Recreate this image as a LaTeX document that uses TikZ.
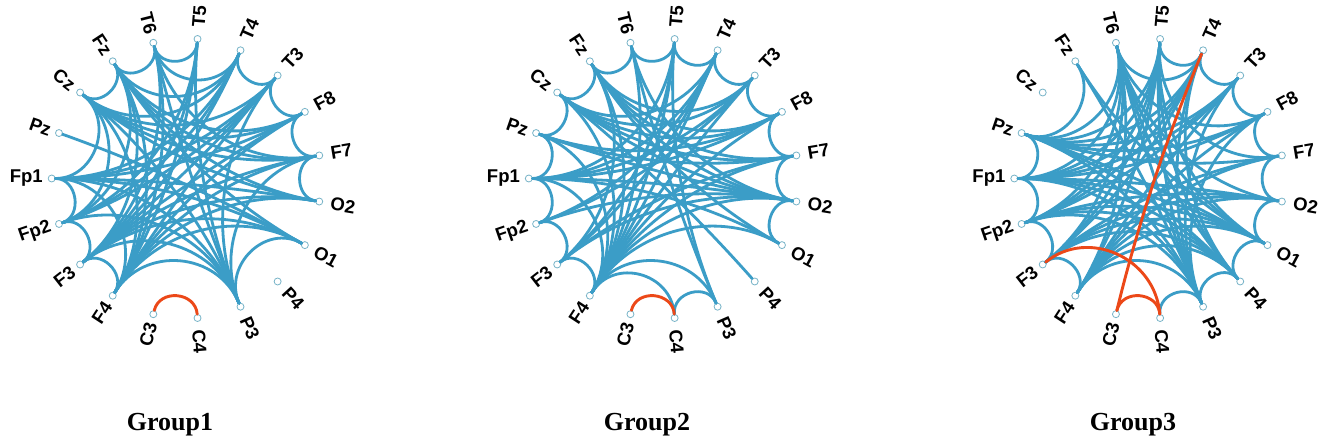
\documentclass[tikz,border=0pt]{standalone}
\usepackage{fontspec}
\newfontfamily\labfont{Liberation Sans}
\newfontfamily\titfont{Liberation Serif}
\definecolor{eblue}{RGB}{59,157,199}
\definecolor{ered}{RGB}{236,72,24}
\definecolor{nodec}{RGB}{120,180,200}
\tikzset{
  elec/.style={circle, draw=nodec, line width=0.8pt, fill=white, inner sep=0pt, minimum size=7pt},
  lab/.style={font=\labfont\bfseries\fontsize{18.5}{18.5}\selectfont, inner sep=0pt},
  conn/.style={draw=eblue, line width=2.8pt, line cap=round},
  redconn/.style={draw=ered, line width=2.9pt, line cap=round},
  grouptitle/.style={font=\titfont\bfseries\fontsize{26}{26}\selectfont, inner sep=0pt}
}
\def\elecnames{Fp1,Pz,Cz,Fz,T6,T5,T4,T3,F8,F7,O2,O1,P4,P3,C4,C3,F4,F3,Fp2}
\newcommand\drawgroup[5]{%
  \begin{scope}[shift={(#2pt,#3pt)}, x=134.7pt, y=140pt]
    \foreach \n [count=\i from 0] in \elecnames {
      \pgfmathsetmacro\ang{180-\i*360/19}
      \node[elec] (#1\i) at (\ang:1) {};
      \pgfmathtruncatemacro\side{cos(\ang)>0 ? 1 : 0}
      \ifnum\side=1
        \node[lab, rotate=\ang, anchor=west] (#1L\i) at (\ang:1.085) {\n};
      \else
        \pgfmathsetmacro\rot{\ang+180}
        \node[lab, rotate=\rot, anchor=east] (#1L\i) at (\ang:1.065) {\n};
      \fi
    }
    \foreach \a/\b in {#4} {
      \pgfmathtruncatemacro\dd{abs(\a-\b)}
      \pgfmathsetmacro\ss{min(\dd,19-\dd)*360/19}
      \pgfmathsetmacro\kk{1-4/3*tan((180-\ss)/4)*tan(\ss/2)}
      \pgfmathsetmacro\aA{180-\a*360/19}
      \pgfmathsetmacro\aB{180-\b*360/19}
      \draw[conn] (#1\a) .. controls (\aA:\kk) and (\aB:\kk) .. (#1\b);
    }
    \foreach \a/\b in {#5} {
      \pgfmathtruncatemacro\dd{abs(\a-\b)}
      \pgfmathsetmacro\ss{min(\dd,19-\dd)*360/19}
      \pgfmathsetmacro\kk{1-4/3*tan((180-\ss)/4)*tan(\ss/2)}
      \pgfmathsetmacro\aA{180-\a*360/19}
      \pgfmathsetmacro\aB{180-\b*360/19}
      \draw[redconn] (#1\a) .. controls (\aA:\kk) and (\aB:\kk) .. (#1\b);
    }
  \end{scope}
}
\begin{document}
\begin{tikzpicture}[x=1pt,y=1pt]
\path[use as bounding box, fill=white] (0,0) rectangle (1325,446);
% Group 1
\drawgroup{a}{186.4}{267.5}{0/18,0/2,0/7,0/8,0/11,0/13,0/16,0/10,0/6,
1/11,
2/3,2/6,2/7,2/8,2/9,2/10,2/13,2/16,2/18,
3/4,3/6,3/8,3/9,3/10,3/11,3/16,3/17,3/18,
4/5,4/6,4/9,4/13,4/16,4/17,
5/13,5/16,5/17,5/18,
6/7,6/17,6/18,
7/8,7/13,7/16,7/17,7/18,
8/9,8/16,8/17,
9/10,9/13,9/16,9/17,
10/16,10/17,
11/16,11/13,11/17,
13/16,13/17,13/18,
16/17,17/18}{15/14}
% Group 2
\drawgroup{b}{663.5}{267.5}{0/1,0/18,0/8,0/7,0/10,0/16,0/11,0/5,0/6,
1/2,1/9,1/8,1/10,1/16,
2/3,2/9,2/10,2/7,2/8,2/16,2/12,2/6,
3/4,3/9,3/10,3/16,3/8,3/11,3/17,3/7,
4/5,4/16,4/13,4/10,
5/6,5/16,5/17,5/13,
6/16,6/17,6/18,6/7,
7/8,7/16,7/18,
8/9,8/16,
9/16,9/17,9/10,
10/11,10/16,10/17,10/18,
11/16,
13/14,14/16,
16/17,16/13,17/18}{15/14}
% Group 3
\drawgroup{c}{1149}{267.5}{0/1,0/18,0/10,0/8,0/11,0/12,0/6,0/7,0/5,0/4,
1/3,1/9,1/8,1/11,1/12,1/7,1/13,1/6,1/4,1/5,
18/17,18/10,18/12,18/11,18/5,18/7,18/4,18/6,
17/16,17/9,17/6,17/5,17/4,17/10,17/11,
16/4,16/5,16/7,16/8,16/9,16/10,16/11,16/12,16/13,
3/13,3/11,
4/12,4/13,4/11,4/6,
5/6,5/13,5/12,
6/7,6/13,
7/8,8/9,8/13,9/10,10/11,11/12,12/13,13/14,
13/0,13/18,12/17,13/7,12/6,11/5,10/4,9/5,8/4}{15/14,15/6,17/14}
\node[grouptitle] (t1) at (170,21) {Group1};
\node[grouptitle] (t2) at (647,21) {Group2};
\node[grouptitle] (t3) at (1133,21) {Group3};
\end{tikzpicture}
\end{document}
